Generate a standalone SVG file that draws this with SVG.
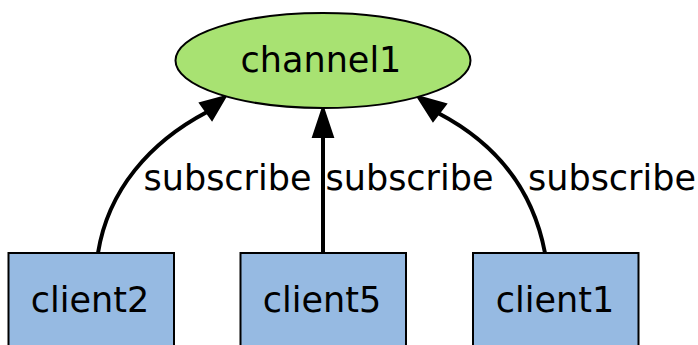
<svg xmlns="http://www.w3.org/2000/svg" width="698" height="345" viewBox="0 0 698 345">
<defs>
<style>
text{font-family:"DejaVu Sans",sans-serif;font-size:35px;fill:#000}
.n{text-anchor:middle}
.box{fill:#96bae2;stroke:#000;stroke-width:2}
.edge{fill:none;stroke:#000;stroke-width:4}
.head{fill:#000;stroke:#000;stroke-width:2;stroke-linejoin:miter}
</style>
</defs>
<rect width="698" height="345" fill="#fff"/>
<g id="connectors">
<path class="edge" d="M98,253 C108,190 150,142 207,112"/>
<polygon class="head" points="226,96 212,120 200,103"/>
<path class="edge" d="M323,253 L323,136"/>
<polygon class="head" points="323,107 333,137 313,137"/>
<path class="edge" d="M545,253 C535,200 505,148 438,113"/>
<polygon class="head" points="417,96 446,104 433,121"/>
<text x="143.5" y="190">subscribe</text>
<text x="325.5" y="190">subscribe</text>
<text x="528" y="190">subscribe</text>
</g>
<g id="channel1">
<ellipse cx="323" cy="60.5" rx="147.5" ry="47.5" fill="#a8e272" stroke="#000" stroke-width="2"/>
<text class="n" x="321" y="72">channel1</text>
</g>
<g id="client2">
<rect class="box" x="8.5" y="253" width="165.5" height="100"/>
<text class="n" x="90" y="312">client2</text>
</g>
<g id="client5">
<rect class="box" x="240.5" y="253" width="165.5" height="100"/>
<text class="n" x="322" y="312">client5</text>
</g>
<g id="client1">
<rect class="box" x="473" y="253" width="165.5" height="100"/>
<text class="n" x="555" y="312">client1</text>
</g>
</svg>
